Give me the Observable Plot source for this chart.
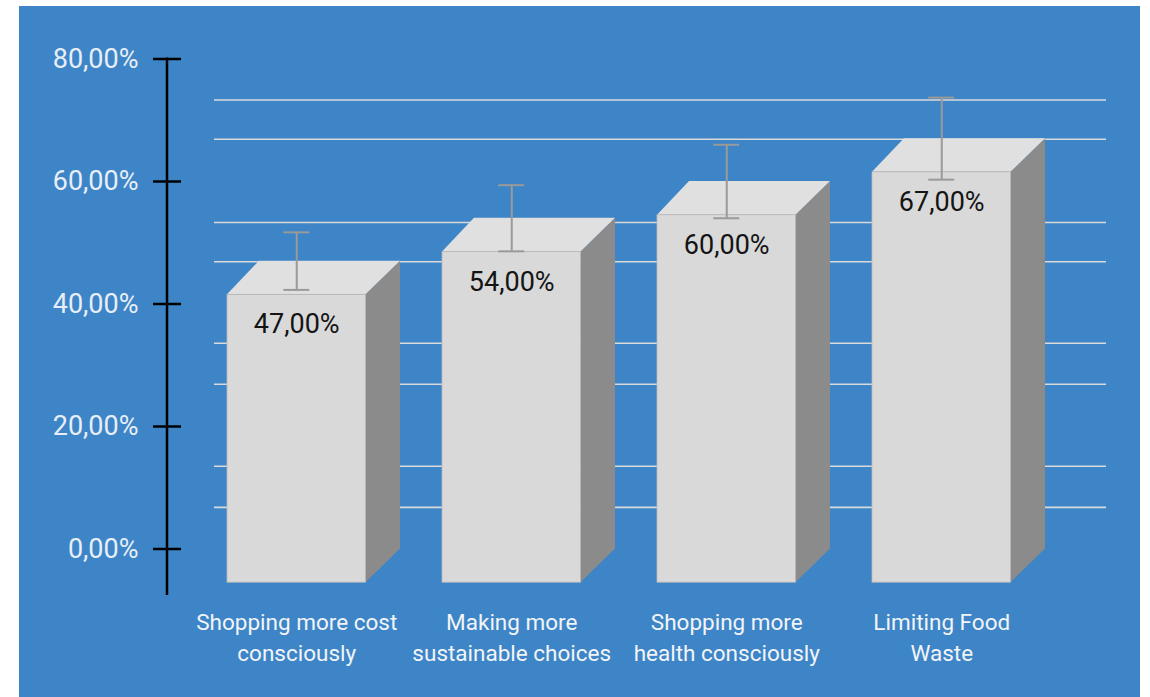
<!DOCTYPE html>
<html><head><meta charset="utf-8">
<script src="https://cdn.jsdelivr.net/npm/d3@7"></script>
<script src="https://cdn.jsdelivr.net/npm/@observablehq/plot@0.6"></script>
<style>
html,body{margin:0;padding:0;background:#ffffff;}
#chart{position:absolute;left:19px;top:6px;width:1121px;height:691px;background:#3d85c6;}
</style></head><body><div id="chart"></div>
<script>
const categories = ["Shopping more cost consciously", "Making more sustainable choices", "Shopping more health consciously", "Limiting Food Waste"];
const categoryLabels = ["Shopping more cost\nconsciously", "Making more\nsustainable choices", "Shopping more\nhealth consciously", "Limiting Food\nWaste"];
const values = [47, 54, 60, 67];
const errors = [4.7, 5.4, 6.0, 6.7];
const yTicks = [0, 20, 40, 60, 80];
const gridValues = [6.8, 13.5, 26.9, 33.6, 46.9, 53.3, 66.9, 73.3];

const fmt = v => v.toFixed(2).replace(".", ",") + "%";
const data = categories.map((c, i) => ({cat: c, value: values[i], err: errors[i], label: categoryLabels[i]}));

const W = 1121, H = 691;
const ML = 148, MR = 34, MT = 52.5, MB = 148.5;
const DX = -33.25, DY = 33.7;
const FONT = "Roboto, 'Noto Sans', sans-serif";

function faces(index, scales) {
  const x = scales.x, y = scales.y;
  const g = d3.create("svg:g");
  const w = x.bandwidth();
  for (const d of data) {
    const xl = x(d.cat), xr = xl + w, yt = y(d.value), yb = y(0);
    const fl = xl + DX + 1.25, fr = xr + DX - 1.25;
    g.append("polygon").attr("points", [[xr, yt], [xr, yb], [fr, yb + DY], [fr, yt + DY]].join(" ")).attr("fill", "#8b8b8b");
    g.append("polygon").attr("points", [[xl, yt], [xr, yt], [fr, yt + DY], [fl, yt + DY]].join(" ")).attr("fill", "#e0e0e0");
  }
  return g.node();
}

function axisLine(index, scales) {
  const y = scales.y;
  return d3.create("svg:line")
    .attr("x1", ML).attr("x2", ML)
    .attr("y1", y(yTicks[yTicks.length - 1]) - 1).attr("y2", y(0) + 46.5)
    .attr("stroke", "#000").attr("stroke-width", 2.5).node();
}

const chart = Plot.plot({
  width: W, height: H,
  marginLeft: ML, marginRight: MR, marginTop: MT, marginBottom: MB,
  style: {background: "transparent", fontFamily: FONT, color: "#e8eef7", overflow: "visible"},
  x: {type: "band", domain: categories, range: [239, 1028], paddingInner: 0.342, paddingOuter: 0, axis: null},
  y: {domain: [0, 80], axis: null},
  marks: [
    Plot.ruleY(gridValues, {stroke: "#dadada", strokeWidth: 1.6, insetLeft: 47}),
    faces,
    Plot.barY(data, {x: "cat", y: "value", dx: DX, dy: DY, insetLeft: 1.25, insetRight: 1.25, fill: "#d9d9d9", stroke: "#b8b8b8", strokeWidth: 0.8}),
    Plot.ruleX(data, {x: "cat", y1: d => d.value - d.err, y2: d => d.value + d.err, dx: DX, stroke: "#9a9a9a", strokeWidth: 2}),
    Plot.tickY(data, {x: "cat", y: d => d.value + d.err, dx: DX, insetLeft: 57.5, insetRight: 57.5, stroke: "#9a9a9a", strokeWidth: 2}),
    Plot.tickY(data, {x: "cat", y: d => d.value - d.err, dx: DX, insetLeft: 57.5, insetRight: 57.5, stroke: "#9a9a9a", strokeWidth: 2}),
    Plot.text(data, {x: "cat", y: "value", text: d => fmt(d.value), dx: DX, dy: DY + 30, fontSize: 27, fill: "#141414"}),
    Plot.text(data, {x: "cat", frameAnchor: "bottom", text: "label", lineAnchor: "top", dx: DX, dy: 58.5, fontSize: 22.5, lineHeight: 31 / 22.5, fill: "#f2f4f8"}),
    Plot.axisY({ticks: yTicks, tickSize: 0, tickPadding: 29, tickFormat: fmt, fontSize: 27, label: null}),
    Plot.ruleY(yTicks, {stroke: "#000", strokeWidth: 2.5, insetLeft: -14, insetRight: (W - ML - MR) - 14}),
    axisLine
  ]
});
document.getElementById("chart").appendChild(chart);
</script></body></html>
